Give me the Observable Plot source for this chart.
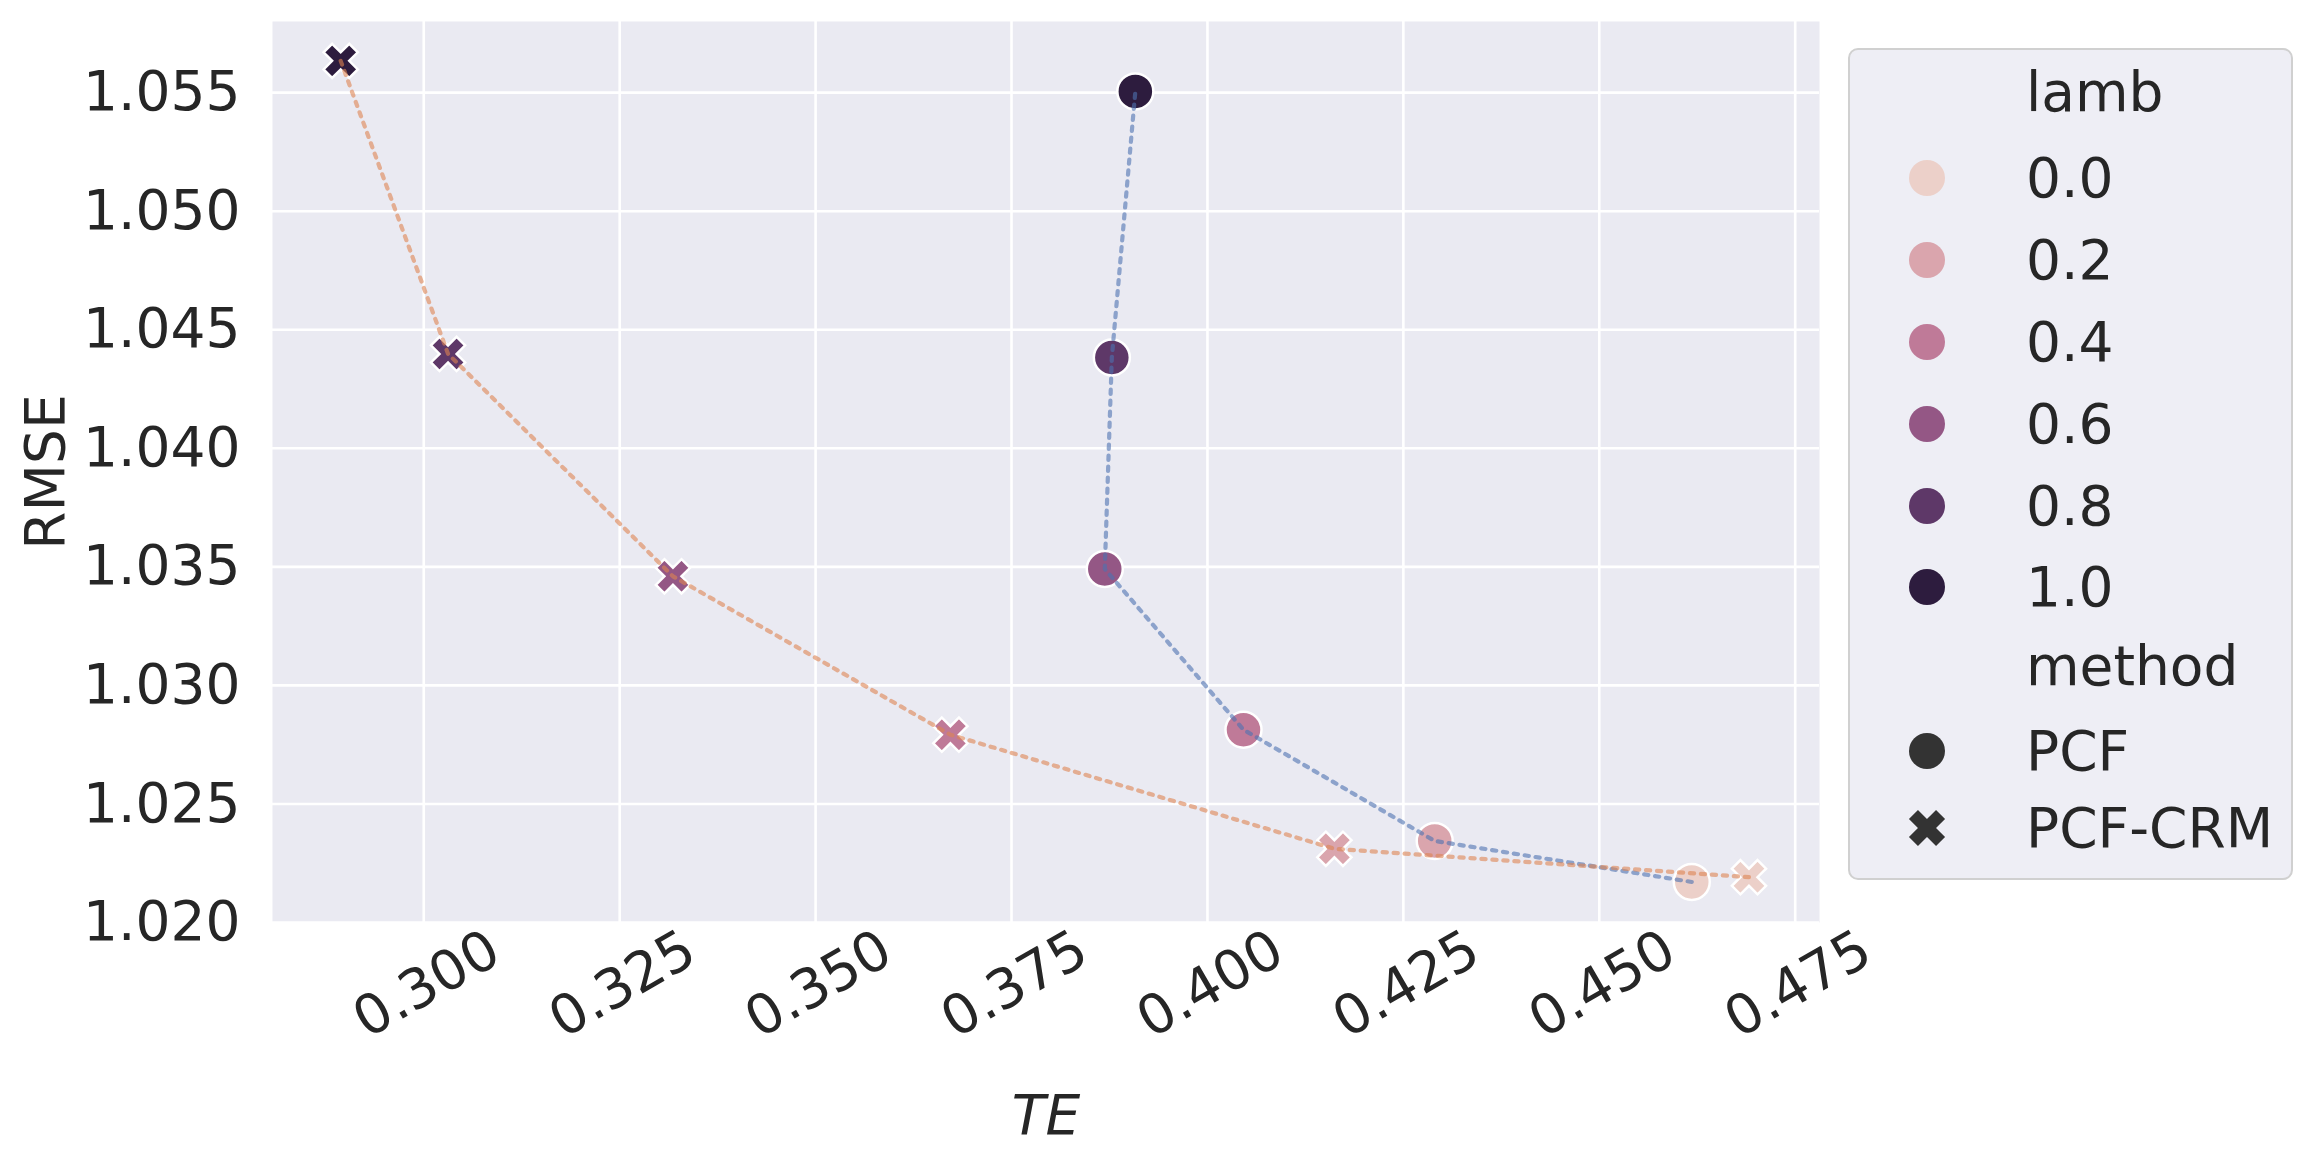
<!DOCTYPE html>
<html>
<head>
<meta charset="utf-8">
<script src="https://cdn.jsdelivr.net/npm/d3@7"></script>
<script src="https://cdn.jsdelivr.net/npm/@observablehq/plot@0.6"></script>
<style>
  html, body { margin: 0; padding: 0; background: #ffffff; }
  #wrap { position: relative; width: 2317px; height: 1163px; font-family: "DejaVu Sans", sans-serif; color: #262626; }
  #legend { position: absolute; left: 1848px; top: 48px; width: 441px; height: 828px;
    border: 2px solid #d0d0d0; border-radius: 10px; background: rgba(234,234,242,0.8); }
  .lrow { position: absolute; left: 0; height: 82px; width: 100%; }
  .lrow svg { position: absolute; left: 56px; top: 20px; }
  .lrow span { position: absolute; left: 176px; top: 50%; transform: translateY(-50%); font-size: 55px; line-height: 1; white-space: nowrap; }
</style>
</head>
<body>
<div id="wrap"></div>
<script>
// ---- data ----
const lambs = [0.0, 0.2, 0.4, 0.6, 0.8, 1.0];
const lambLabels = ["0.0", "0.2", "0.4", "0.6", "0.8", "1.0"];
const lambColors = ["#ecd0c9", "#daa5ad", "#bf7a98", "#945785", "#5e3868", "#2d1c3e"];
const methods = ["PCF", "PCF-CRM"];
const pcfTE = [0.4618, 0.4290, 0.4046, 0.3869, 0.3878, 0.3908];
const pcfRMSE = [1.02171, 1.02344, 1.02813, 1.03491, 1.04383, 1.05505];
const crmTE = [0.4691, 0.4162, 0.3672, 0.3318, 0.3031, 0.2894];
const crmRMSE = [1.02191, 1.02311, 1.02792, 1.03460, 1.04398, 1.05634];
const xTicks = [0.300, 0.325, 0.350, 0.375, 0.400, 0.425, 0.450, 0.475];
const yTicks = [1.020, 1.025, 1.030, 1.035, 1.040, 1.045, 1.050, 1.055];
const lineColors = {"PCF": "#4c72b0", "PCF-CRM": "#dd8452"};

const rows = [];
lambs.forEach((l, i) => rows.push({lamb: l, method: "PCF", TE: pcfTE[i], RMSE: pcfRMSE[i]}));
lambs.forEach((l, i) => rows.push({lamb: l, method: "PCF-CRM", TE: crmTE[i], RMSE: crmRMSE[i]}));

// matplotlib-like filled "X" marker
const xPts = [[0.25,0],[0.5,0.25],[0.75,0],[1,0.25],[0.75,0.5],[1,0.75],[0.75,1],[0.5,0.75],[0.25,1],[0,0.75],[0.25,0.5],[0,0.25]];
const symX = {
  draw(ctx, size) {
    const R = Math.sqrt(size / Math.PI) * 0.95;
    xPts.forEach(([u, v], i) => {
      const px = (u - 0.5) * 2 * R, py = (v - 0.5) * 2 * R;
      if (i === 0) ctx.moveTo(px, py); else ctx.lineTo(px, py);
    });
    ctx.closePath();
  }
};

const W = 2317, H = 1163;
const mL = 272, mR = W - 1819, mT = 21, mB = H - 922;
const font = "DejaVu Sans";
const FS = 55;

const chart = Plot.plot({
  width: W, height: H,
  marginLeft: mL, marginRight: mR, marginTop: mT, marginBottom: mB,
  style: {fontFamily: font, background: "transparent", color: "#262626"},
  x: {domain: [0.2807, 0.4781], axis: null},
  y: {domain: [1.0200, 1.0580], axis: null},
  color: {type: "ordinal", domain: lambs, range: lambColors},
  symbol: {domain: methods, range: [d3.symbolCircle, symX]},
  marks: [
    Plot.frame({fill: "#eaeaf2", stroke: null}),
    Plot.gridX(xTicks, {stroke: "#ffffff", strokeOpacity: 1, strokeWidth: 2.6}),
    Plot.gridY(yTicks, {stroke: "#ffffff", strokeOpacity: 1, strokeWidth: 2.6}),
    Plot.text(yTicks, {y: d => d, frameAnchor: "left", dx: -32, text: d3.format(".3f"),
      textAnchor: "end", lineAnchor: "middle", fontSize: FS, fill: "#262626"}),
    Plot.text(xTicks, {x: d => d, frameAnchor: "bottom", dy: 62, dx: 3, rotate: -30,
      text: d3.format(".3f"), textAnchor: "middle", lineAnchor: "middle", fontSize: FS, fill: "#262626"}),
    Plot.text(["TE"], {frameAnchor: "bottom", dy: 194, fontSize: FS, fontStyle: "italic", fill: "#262626", lineAnchor: "middle"}),
    Plot.text(["RMSE"], {frameAnchor: "left", dx: 46 - mL, rotate: -90, fontSize: FS, fill: "#262626", lineAnchor: "middle", textAnchor: "middle"}),
    Plot.dot(rows, {x: "TE", y: "RMSE", fill: "lamb", symbol: "method", r: 18, stroke: "#ffffff", strokeWidth: 2.5}),
    Plot.line(rows.filter(d => d.method === "PCF"), {x: "TE", y: "RMSE", stroke: lineColors["PCF"], strokeOpacity: 0.6,
      strokeWidth: 4.2, strokeDasharray: "4.2,6.8"}),
    Plot.line(rows.filter(d => d.method === "PCF-CRM"), {x: "TE", y: "RMSE", stroke: lineColors["PCF-CRM"], strokeOpacity: 0.6,
      strokeWidth: 4.2, strokeDasharray: "4.2,6.8"})
  ]
});

const wrap = document.getElementById("wrap");
wrap.appendChild(chart);

// ---- legend ----
const legend = document.createElement("div");
legend.id = "legend";
const rowCenters = [92, 178, 260, 342, 424, 506, 587, 666, 751, 828];
const items = [{label: "lamb"}]
  .concat(lambLabels.map((t, i) => ({label: t, color: lambColors[i], shape: "circle"})))
  .concat([{label: "method"}, {label: methods[0], color: "#333333", shape: "circle"}, {label: methods[1], color: "#333333", shape: "x"}]);
items.forEach((it, i) => {
  const row = document.createElement("div");
  row.className = "lrow";
  row.style.top = (rowCenters[i] - 48 - 2 - 41) + "px";
  if (it.shape) {
    const svg = d3.create("svg").attr("width", 42).attr("height", 42);
    const g = svg.append("g").attr("transform", "translate(21,21)");
    if (it.shape === "circle") {
      g.append("circle").attr("r", 18).attr("fill", it.color);
    } else {
      const p = d3.path();
      symX.draw(p, Math.PI * 19 * 19);
      g.append("path").attr("d", p.toString()).attr("fill", it.color);
    }
    row.appendChild(svg.node());
  }
  const span = document.createElement("span");
  span.textContent = it.label;
  row.appendChild(span);
  legend.appendChild(row);
});
wrap.appendChild(legend);
</script>
</body>
</html>
